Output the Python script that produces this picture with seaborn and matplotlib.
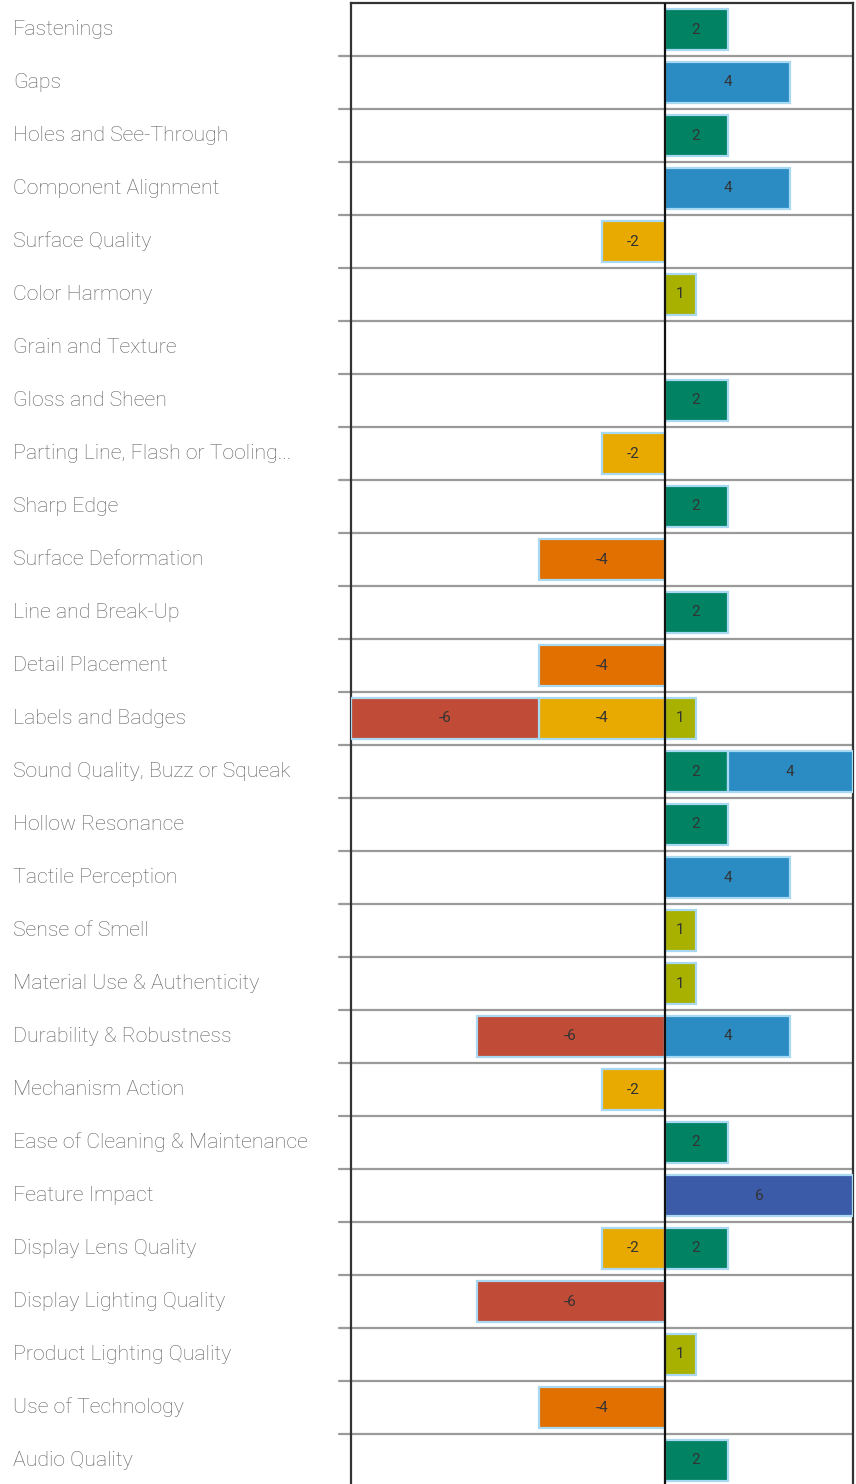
import numpy as np
import matplotlib
matplotlib.use("Agg")
import matplotlib.pyplot as plt
import matplotlib.transforms as mtransforms
import seaborn as sns

categories = [
    "Fastenings", "Gaps", "Holes and See-Through", "Component Alignment",
    "Surface Quality", "Color Harmony", "Grain and Texture", "Gloss and Sheen",
    "Parting Line, Flash or Tooling...", "Sharp Edge", "Surface Deformation",
    "Line and Break-Up", "Detail Placement", "Labels and Badges",
    "Sound Quality, Buzz or Squeak", "Hollow Resonance", "Tactile Perception",
    "Sense of Smell", "Material Use & Authenticity", "Durability & Robustness",
    "Mechanism Action", "Ease of Cleaning & Maintenance", "Feature Impact",
    "Display Lens Quality", "Display Lighting Quality", "Product Lighting Quality",
    "Use of Technology", "Audio Quality",
]

# negative series (stacked outward from zero)
minor = [0, 0, 0, 0, -2, 0, 0, 0, -2, 0, 0, 0, 0, -4, 0, 0, 0, 0, 0, 0, -2, 0, 0, -2, 0, 0, 0, 0]
moderate = [0, 0, 0, 0, 0, 0, 0, 0, 0, 0, -4, 0, -4, 0, 0, 0, 0, 0, 0, 0, 0, 0, 0, 0, 0, 0, -4, 0]
major = [0, 0, 0, 0, 0, 0, 0, 0, 0, 0, 0, 0, 0, -6, 0, 0, 0, 0, 0, -6, 0, 0, 0, 0, -6, 0, 0, 0]
# positive series (stacked outward from zero)
slight = [0, 0, 0, 0, 0, 1, 0, 0, 0, 0, 0, 0, 0, 1, 0, 0, 0, 1, 1, 0, 0, 0, 0, 0, 0, 1, 0, 0]
good = [2, 0, 2, 0, 0, 0, 0, 2, 0, 2, 0, 2, 0, 0, 2, 2, 0, 0, 0, 0, 0, 2, 0, 2, 0, 0, 0, 2]
very_good = [0, 4, 0, 4, 0, 0, 0, 0, 0, 0, 0, 0, 0, 0, 4, 0, 4, 0, 0, 4, 0, 0, 0, 0, 0, 0, 0, 0]
excellent = [0, 0, 0, 0, 0, 0, 0, 0, 0, 0, 0, 0, 0, 0, 0, 0, 0, 0, 0, 0, 0, 0, 6, 0, 0, 0, 0, 0]

neg_series = [("Minor", minor, "#e8aa00"), ("Moderate", moderate, "#e27000"),
              ("Major", major, "#c04b36")]
pos_series = [("Slight", slight, "#a8b000"), ("Good", good, "#008263"),
              ("Very good", very_good, "#2a8cc3"), ("Excellent", excellent, "#3b5ba9")]

sns.set_theme(style="white")
plt.rcParams["font.family"] = ["Roboto", "DejaVu Sans"]

fig = plt.figure(figsize=(8.56, 14.84), dpi=100)
ax = fig.add_axes([351 / 856, -3 / 1484, 502 / 856, 1484 / 1484])

n = len(categories)
y = np.arange(n)
bar_h = 0.76


def draw_stack(series_list):
    base = np.zeros(n)
    for name, vals, color in series_list:
        vals = np.array(vals, dtype=float)
        mask = vals != 0
        ax.barh(y[mask], vals[mask], left=base[mask], height=bar_h, color=color,
                edgecolor="#a9d9f2", linewidth=1.6, label=name, zorder=3)
        for yi, v, b in zip(y[mask], vals[mask], base[mask]):
            ax.text(b + v / 2, yi, f"{int(v)}", ha="center", va="center",
                    fontsize=11, color="#333333", zorder=4)
        base = base + vals


draw_stack(neg_series)
draw_stack(pos_series)

ax.set_xlim(-10, 6)
ax.set_ylim(n - 0.5, -0.5)
ax.set_xticks([])
ax.set_yticks([])

# row separators extending slightly left of the frame
for b in np.arange(0.5, n - 0.5, 1.0):
    ax.axhline(b, xmin=-0.024, xmax=1, color="#9a9a9a", linewidth=1.6,
               clip_on=False, zorder=1)
ax.axvline(0, color="#111111", linewidth=1.6, zorder=5)

for side in ["top", "left", "right", "bottom"]:
    ax.spines[side].set_visible(True)
    ax.spines[side].set_color("#333333")
    ax.spines[side].set_linewidth(1.6)

trans = mtransforms.blended_transform_factory(fig.transFigure, ax.transData)
for yi, cat in zip(y, categories):
    ax.text(13 / 856, yi, cat, transform=trans, ha="left", va="center",
            fontsize=15.3, color="#5f5f5f", fontweight="light")

fig.savefig("out.png", dpi=100, facecolor="white")
